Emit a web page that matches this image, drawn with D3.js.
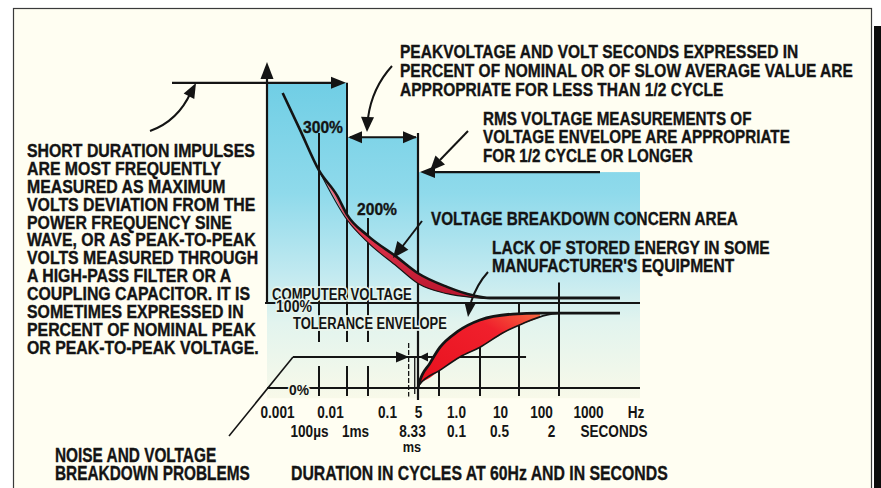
<!DOCTYPE html>
<html><head><meta charset="utf-8">
<script src="https://cdn.jsdelivr.net/npm/d3@7"></script>
<style>
html,body{margin:0;padding:0;background:#fff;}
svg{display:block;}
text{font-family:"Liberation Sans",Arial,Helvetica,sans-serif;font-weight:bold;fill:#141414;}
text.heavy{stroke:#141414;stroke-width:0.35px;}
</style></head><body>
<svg id="chart" width="881" height="488"></svg>
<script>
// ---- axis labels ----
const cycleLabels = ["0.001","0.01","0.1","5","1.0","10","100","1000"];
const cycleLabelValues = [0.001,0.01,0.1,0.5,1,10,100,1000];      // cycles at 60 Hz
const secondLabels = ["100µs","1ms","8.33","0.1","0.5","2"];
const secondLabelValues = [0.0001,0.001,0.00833,0.1,0.5,2];         // seconds

// ---- measurement regions: duration span (cycles) and upper level (% of nominal) ----
const regionFrom = [0.0001, 0.01, 0.5];
const regionTo   = [0.01,   0.5,  10000];
const regionTop  = [359,    295,  254];

// ---- upper tolerance curve (cycles, % of nominal) ----
const upperCurve = [[0.0002,347],[0.00043,304],[0.001,256],[0.0045,226],[0.01,204],[0.1,179],[0.254,154],[0.5,135],[1.57,119],[6.7,109],[18,106],[100,106],[5660,106]];
// lower boundary of the breakdown-concern band under the upper curve
const upperBand  = [[0.001,256],[0.01,198],[0.1,171],[0.254,143],[0.5,123],[1.57,111],[6.7,106.5],[18,105],[100,105],[5660,105]];
// lower tolerance curve (lack of stored energy): top and bottom edges
const lowerTop    = [[0.5,0],[0.52,6],[0.74,29],[1.06,48],[2.75,66],[10,80],[70,87],[335,88],[5660,88]];
const lowerBottom = [[0.5,0],[0.52,3.5],[1.06,21],[3.25,36.5],[10,48],[38.9,65],[126,76],[501,86],[1029,88]];

// ---- vertical markers: duration (cycles), top level (%) ----
const markerCycles = [0.001,0.01,0.1,0.5,1,10,100,1000];
const markerTop    = [300,359,200,300,null,null,100,124];

// ---- notes ----
const noteShort = ["SHORT DURATION IMPULSES","ARE MOST FREQUENTLY","MEASURED AS MAXIMUM","VOLTS DEVIATION FROM THE","POWER FREQUENCY SINE","WAVE, OR AS PEAK-TO-PEAK","VOLTS MEASURED THROUGH","A HIGH-PASS FILTER OR A","COUPLING CAPACITOR. IT IS","SOMETIMES EXPRESSED IN","PERCENT OF NOMINAL PEAK","OR PEAK-TO-PEAK VOLTAGE."];
const notePeak = ["PEAKVOLTAGE AND VOLT SECONDS EXPRESSED IN","PERCENT OF NOMINAL OR OF SLOW AVERAGE VALUE ARE","APPROPRIATE FOR LESS THAN 1/2 CYCLE"];
const noteRms = ["RMS VOLTAGE MEASUREMENTS OF","VOLTAGE ENVELOPE ARE APPROPRIATE","FOR 1/2 CYCLE OR LONGER"];
const noteNoise = ["NOISE AND VOLTAGE","BREAKDOWN PROBLEMS"];
const noteLack = ["LACK OF STORED ENERGY IN SOME","MANUFACTURER'S EQUIPMENT"];

// ---- scales ----
const y = d3.scaleLinear().domain([0,100]).range([388,303]);
const x = d3.scaleLog()
  .domain([1e-4,1e-3,1e-2,1e-1,0.5,1,10,100,1000,1e4])
  .range([267,319,347,368,418,439,480,519,559,640]);
const xFront = d3.scaleLog().domain(cycleLabelValues).range([277,330,387,418,456,500,541,588]);
const xSec = d3.scaleLog().domain(secondLabelValues).range([309,355,412,456,499,551]);

const svg = d3.select("#chart");
const defs = svg.append("defs");
const INK = "#141414";

function grad(id, attrs, stops){
  const g = defs.append("linearGradient").attr("id", id);
  Object.entries(attrs).forEach(([k,v]) => g.attr(k, v));
  stops.forEach(([o,c]) => g.append("stop").attr("offset", o).attr("stop-color", c));
}
grad("blue", {gradientUnits:"userSpaceOnUse", x1:0, x2:0, y1:y(359), y2:y(-12)},
  [[0,"#70cee5"],[0.35,"#8fdaeb"],[0.6,"#c0e9f0"],[0.76,"#e2f4ee"],[1,"#f8f9e9"]]);
grad("bandRed", {x1:0,x2:0,y1:0,y2:1}, [[0,"#f4889a"],[0.5,"#e0344c"],[1,"#b8142c"]]);
grad("lowRed", {x1:0,x2:1,y1:1,y2:0}, [[0,"#e8101e"],[0.7,"#f0202c"],[1,"#f56a40"]]);

// page and frame
svg.append("rect").attr("width",881).attr("height",488).attr("fill","#ffffff");
svg.append("rect").attr("x",13.5).attr("y",8.5).attr("width",858).attr("height",490)
  .attr("fill","#fffef2").attr("stroke","#3a3a3a").attr("stroke-width",1.2);
svg.append("rect").attr("x",874).attr("y",26).attr("width",7).attr("height",462).attr("fill","#0c0c0c");

// shaded measurement regions
svg.append("g").selectAll("rect").data(regionTop).join("rect")
  .attr("x",(d,i)=>x(regionFrom[i])).attr("width",(d,i)=>x(regionTo[i])-x(regionFrom[i]))
  .attr("y",d=>y(d)).attr("height",d=>y(-12)-y(d)).attr("fill","url(#blue)");

const lines = svg.append("g").attr("stroke",INK).attr("fill","none");
const seg = (x1,y1,x2,y2,w) => lines.append("line").attr("x1",x1).attr("y1",y1).attr("x2",x2).attr("y2",y2).attr("stroke-width",w||2);

// linear lookup of a curve level at a given duration
function levelAt(curve, c){
  for (let i=1;i<curve.length;i++){
    if (c <= curve[i][0]){
      const [c0,p0]=curve[i-1],[c1,p1]=curve[i];
      const t=(Math.log(c)-Math.log(c0))/(Math.log(c1)-Math.log(c0));
      return p0+(p1-p0)*t;
    }
  }
  return curve[curve.length-1][1];
}

// vertical duration markers
markerCycles.forEach((c,i) => {
  const xx = x(c);
  const top = markerTop[i] === null ? levelAt(lowerTop, c) : markerTop[i];
  const bottom = c === 0.5 ? -14 : -9.5;
  if (c <= 0.1) {
    seg(xx, y(top), xx, y(54), 2);
    seg(xx, y(26), xx, y(bottom), 2);
  } else {
    seg(xx, y(top), xx, y(bottom), c === 0.5 || c === 0.01 ? 2.2 : 2);
  }
});
// dashed half-cycle marker
lines.append("line").attr("x1",x(0.37)).attr("x2",x(0.37)).attr("y1",y(53)).attr("y2",y(-10))
  .attr("stroke-width",1.3).attr("stroke-dasharray","5,2");
seg(x(0.45), y(37), x(0.45), y(-7), 1.3);

// vertical axis
seg(267, y(100), 267, 74, 2.2);

// level lines
seg(265, y(100), x(1e4), y(100), 2.2);
seg(267, y(0), x(1e4), y(0), 2.2);
seg(293, y(36.5), x(150), y(36.5), 2);
seg(293, y(36.5), 229, 436, 1.6);

// breakdown concern band under the upper curve
const lineGen = d3.line().x(d=>x(d[0])).y(d=>y(d[1])).curve(d3.curveMonotoneX);
const bandArea = d3.area().x(d=>x(d[0])).y0(d=>y(levelAt(upperBand,d[0]))).y1(d=>y(d[1])).curve(d3.curveMonotoneX);
svg.append("path").datum(upperCurve.filter(d=>d[0]>=0.001 && d[0]<=100))
  .attr("d", bandArea).attr("fill","url(#bandRed)");
svg.append("path").datum(upperBand).attr("d", lineGen).attr("fill","none").attr("stroke",INK).attr("stroke-width",1.1);
svg.append("path").datum(upperCurve).attr("d", lineGen).attr("fill","none").attr("stroke",INK).attr("stroke-width",2.6);

// lower tolerance crescent
const lowArea = d3.area().x(d=>x(d[0])).y0(d=>y(levelAt(lowerBottom,d[0]))).y1(d=>y(d[1])).curve(d3.curveMonotoneX);
svg.append("path").datum(lowerTop.filter(d=>d[0]<=1029)).attr("d", lowArea).attr("fill","url(#lowRed)");
svg.append("path").datum(lowerBottom).attr("d", lineGen).attr("fill","none").attr("stroke",INK).attr("stroke-width",1.6);
svg.append("path").datum(lowerTop).attr("d", lineGen).attr("fill","none").attr("stroke",INK).attr("stroke-width",2.8);

// arrows
const heads = svg.append("g").attr("fill",INK);
function head(tx, ty, deg, len, half){
  const a = deg*Math.PI/180, bx = tx-len*Math.cos(a), by = ty-len*Math.sin(a);
  const px = -Math.sin(a)*half, py = Math.cos(a)*half;
  heads.append("path").attr("d",`M${tx},${ty}L${bx+px},${by+py}L${bx-px},${by-py}Z`);
}
head(267, 62, -90, 17, 6.5);
seg(172, y(359), 334, y(359), 2.2); head(346, y(359), 0, 15, 6);
seg(350, y(295), 416, y(295), 2.2); head(348, y(295), 180, 14, 6); head(417, y(295), 0, 14, 6);
seg(432, y(254), 600, y(254), 2.2); head(420, y(254), 180, 15, 6);
seg(293, y(36.5), 397, y(36.5), 2); head(409, y(36.5), 0, 13, 5.5); head(419, y(36.5), 180, 9, 4.5);
// leaders
const lead = (d,w) => lines.append("path").attr("d",d).attr("stroke-width",w||2);
lead("M150,131 Q178,121 191,92"); head(196, 83, -62, 15, 6);
lead("M392,66 Q372,88 368,118"); head(367, 132, 92, 15, 6.5);
lead("M468,131 L440,160"); head(430, 171, 133, 15, 6.5);
lead("M422,221 L402,247"); head(393, 258, 128, 16, 7);
lead("M488,272 Q477,284 471,302"); head(468, 317, 98, 14, 5.5);

// text blocks: condensed horizontally so the reference line spans the given width
function block(rows, x0, y0, step, size, refIndex, refWidth, halo){
  const g = svg.append("g");
  const ts = rows.map((t,i) => {
    const tx = g.append("text").attr("x",0).attr("y",y0+i*step).style("font-size",size+"px").text(t);
    if (halo) tx.attr("stroke",halo).attr("stroke-width",3.5).attr("paint-order","stroke");
    else tx.attr("class","heavy");
    return tx;
  });
  const w = ts[refIndex].node().getComputedTextLength();
  g.attr("transform",`translate(${x0},0) scale(${refWidth/w},1)`);
}
block(noteShort, 27, 157, 17.9, 17.5, 0, 228);
block(notePeak, 400, 58, 19, 18.5, 1, 453);
block(noteRms, 483, 125, 18.5, 18.5, 1, 307);
block(noteNoise, 55, 462, 18, 19.5, 1, 195);
block(["DURATION IN CYCLES AT 60Hz AND IN SECONDS"], 291, 480, 0, 20, 0, 377);
block(["VOLTAGE BREAKDOWN CONCERN AREA"], 431, 225, 0, 18, 0, 307);
block(noteLack, 492, 254.5, 17.5, 18, 0, 278);
block(["300%"], 303, 133, 0, 16.5, 0, 40);
block(["200%"], 357, 215, 0, 16.5, 0, 40);
block(["COMPUTER VOLTAGE"], 272, 300, 0, 17, 0, 140, "#e4f4ee");
block(["100%"], 276, 312, 0, 16, 0, 36, "#e6f4ee");
block(["TOLERANCE ENVELOPE"], 293, 329, 0, 17, 0, 154, "#eaf5ec");
block(["0%"], 289, 395, 0, 15.5, 0, 20, "#f4f8ea");

// duration axes (cycles row and seconds row)
function labelRow(scale, values, labels, baseline, size){
  const g = svg.append("g").attr("transform",`translate(0,${baseline})`)
    .call(d3.axisBottom(scale).tickValues(values).tickFormat((d,i)=>labels[i]).tickSize(0).tickPadding(0));
  g.select(".domain").remove();
  g.selectAll("text").attr("dy",null).attr("y",0).attr("transform","scale(0.85,1)").style("font-size",size+"px");
  return g;
}
labelRow(xFront, cycleLabelValues, cycleLabels, 418, 16);
labelRow(xSec, secondLabelValues, secondLabels, 437, 16);
const unit = (t, xx, yy, size) => svg.append("text").attr("transform",`translate(${xx},${yy}) scale(0.85,1)`)
  .attr("text-anchor","middle").style("font-size",size+"px").text(t);
unit("Hz", 636, 418, 16);
unit("SECONDS", 614, 437, 16);
unit("ms", xSec(0.00833), 452, 15);
</script>
</body></html>
